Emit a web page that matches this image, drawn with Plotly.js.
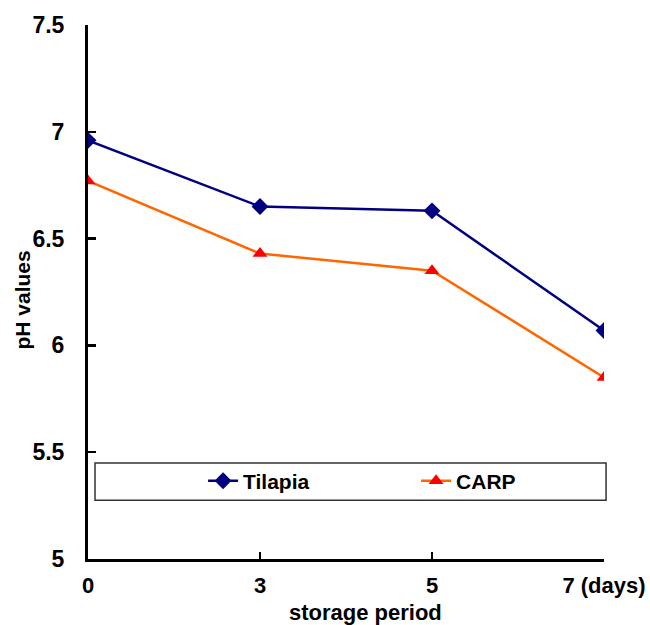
<!DOCTYPE html>
<html><head><meta charset="utf-8">
<script src="https://cdn.plot.ly/plotly-3.0.1.min.js"></script>
<style>html,body{margin:0;padding:0;background:#fff}#chart{width:650px;height:625px}</style>
</head><body><div id="chart"></div>
<script>
const categories = ['0', '3', '5', '7 (days)'];
const tilapia = [6.96, 6.65, 6.63, 6.07];
const carp = [6.77, 6.43, 6.35, 5.85];
const yTicks = [5, 5.5, 6, 6.5, 7, 7.5];
const yTickLabels = ['5', '5.5', '6', '6.5', '7', '7.5'];

const fontFam = '"Liberation Sans", Arial, sans-serif';
const traces = [
  {x: categories, y: tilapia, name: 'Tilapia', type: 'scatter', mode: 'lines+markers',
   line: {color: '#000080', width: 2.5}, marker: {symbol: 'diamond', size: 13, color: '#000080'}},
  {x: categories, y: carp, name: 'CARP', type: 'scatter', mode: 'lines+markers',
   line: {color: '#FF6600', width: 2.5}, marker: {symbol: 'triangle-up', size: 13, color: '#FF0000'}}
];
const layout = {
  width: 650, height: 625,
  margin: {l: 88, r: 46, t: 25, b: 66},
  paper_bgcolor: '#fff', plot_bgcolor: '#fff',
  font: {family: fontFam, color: '#000'},
  showlegend: true,
  legend: {orientation: 'h', x: 0.223, xanchor: 'left', y: 0.146, yanchor: 'middle',
    entrywidth: 168, entrywidthmode: 'pixels', bgcolor: 'rgba(0,0,0,0)',
    font: {family: fontFam, size: 21, color: '#000', weight: 'bold'}},
  xaxis: {type: 'category', range: [0, 3], showgrid: false, zeroline: false,
    showline: true, linecolor: '#000', linewidth: 3,
    ticks: 'inside', ticklen: 7, tickwidth: 2.5, tickcolor: '#000',
    ticklabelstandoff: 5,
    tickfont: {family: fontFam, size: 22, color: '#000', weight: 'bold'}},
  yaxis: {range: [5, 7.5], tickvals: yTicks, ticktext: yTickLabels, showgrid: false, zeroline: false,
    showline: true, linecolor: '#000', linewidth: 3,
    ticks: 'inside', ticklen: 8, tickwidth: 2.5, tickcolor: '#000',
    ticklabelstandoff: 16,
    tickfont: {family: fontFam, size: 23, color: '#000', weight: 'bold'}},
  shapes: [{type: 'rect', xref: 'paper', yref: 'paper', x0: 0.0136, x1: 1.004, y0: 0.110, y1: 0.180,
    line: {color: '#333', width: 1.5}, fillcolor: 'rgba(0,0,0,0)', layer: 'below'}],
  annotations: [
    {text: 'storage period', xref: 'paper', yref: 'paper', x: 0.537, y: -0.101, xanchor: 'center', yanchor: 'middle',
     showarrow: false, font: {family: fontFam, size: 22, color: '#000', weight: 'bold'}},
    {text: 'pH values', xref: 'paper', yref: 'paper', x: -0.127, y: 0.485, xanchor: 'center', yanchor: 'middle',
     textangle: -90, showarrow: false, font: {family: fontFam, size: 21, color: '#000', weight: 'bold'}}
  ]
};
Plotly.newPlot('chart', traces, layout, {displayModeBar: false, staticPlot: true});
</script></body></html>
